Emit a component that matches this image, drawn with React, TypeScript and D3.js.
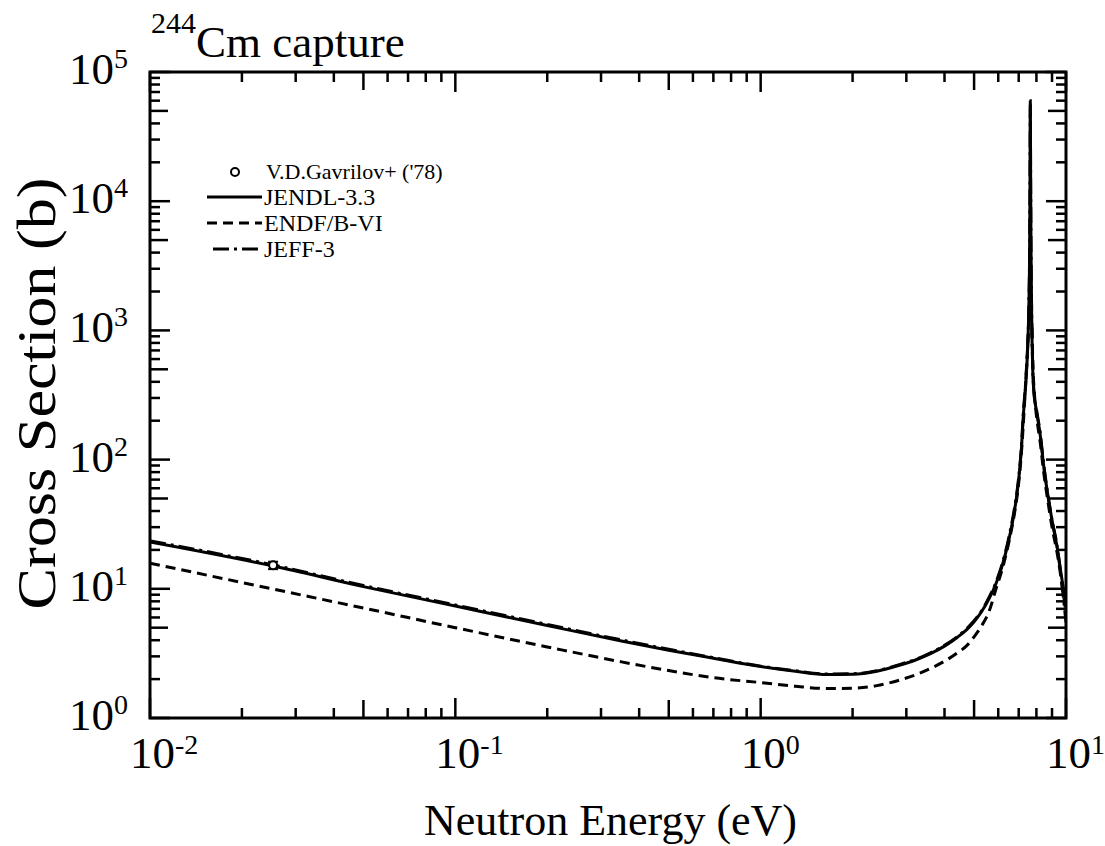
import React from 'react';
import * as d3 from 'd3';

// ---------- data ----------
const energyGrid = [0.01, 0.0253, 0.05, 0.1, 0.2, 0.35, 0.5, 0.7, 1.0, 1.3, 1.65, 2.0, 2.4, 2.86, 3.2, 3.6, 4.0, 4.4, 4.74, 5.0, 5.3, 5.6, 5.9, 6.2, 6.5, 6.8, 7.0, 7.15, 7.24, 7.40, 7.50, 7.56, 7.60, 7.62, 7.64, 7.66, 7.68, 7.72, 7.78, 7.85, 8.0, 8.22, 8.45, 8.73, 9.0, 9.35, 9.78, 10];
const jendlXS = [23.0, 15.0, 10.4, 7.35, 5.2, 3.95, 3.35, 2.9, 2.5, 2.3, 2.17, 2.18, 2.3, 2.57, 2.8, 3.15, 3.6, 4.2, 4.85, 5.55, 6.7, 8.4, 11, 15.5, 24, 42, 70, 125, 210, 420, 800, 1600, 4000, 12000, 60000, 14000, 4500, 1300, 500, 330, 240, 160, 90, 52, 34, 21, 10.5, 8];
const jeffXS = [23.5, 15.3, 10.6, 7.5, 5.3, 4.02, 3.4, 2.93, 2.52, 2.32, 2.19, 2.2, 2.32, 2.6, 2.83, 3.2, 3.65, 4.25, 4.95, 5.65, 6.8, 8.6, 11.3, 16, 25, 44, 73, 130, 220, 440, 820, 1650, 4100, 12500, 56000, 14500, 4600, 1350, 520, 340, 245, 165, 92, 53, 34, 21.5, 9, 5.5];

const endfE = [0.01, 0.0253, 0.05, 0.1, 0.2, 0.35, 0.5, 0.7, 1.0, 1.3, 1.65, 2.0, 2.4, 2.86, 3.2, 3.6, 4.0, 4.4, 4.74, 5.0, 5.3, 5.6, 5.9, 6.2, 6.5, 6.8, 7.0, 7.15, 7.30, 7.45, 7.56, 7.64, 7.72, 7.80, 7.90, 8.0, 8.22, 8.45, 8.73, 9.0, 9.35, 9.78, 10];
const endfXS = [15.8, 9.95, 7.1, 5.0, 3.55, 2.72, 2.33, 2.05, 1.88, 1.76, 1.69, 1.70, 1.78, 1.97, 2.15, 2.42, 2.75, 3.18, 3.65, 4.25, 5.2, 6.7, 10.0, 14.5, 23, 40, 66, 115, 250, 600, 1100, 1400, 1150, 500, 300, 220, 140, 80, 47, 30, 19, 9.5, 6.5];

const expE = [0.0253];
const expXS = [15.2];
const expErr = [1.0];

const xTickExps = [-2, -1, 0, 1];
const yTickExps = [0, 1, 2, 3, 4, 5];

const legendItems = [
  { label: 'JENDL-3.3', dash: 'none', x0: 207 },
  { label: 'ENDF/B-VI', dash: '10,6', x0: 207 },
  { label: 'JEFF-3', dash: '16,5,3,5', x0: 213 },
];

// ---------- layout ----------
const W = 1105, H = 846;
const L = 150, R = 1066, T = 72, B = 718;
const FONT = "'Liberation Serif', 'Times New Roman', Times, serif";

export default function App() {
  const x = d3.scaleLog().domain([1e-2, 1e1]).range([L, R]);
  const y = d3.scaleLog().domain([1, 1e5]).range([B, T]);

  const line = d3.line<[number, number]>()
    .x(d => x(d[0]))
    .y(d => y(d[1]))
    .curve(d3.curveMonotoneX);

  const jendl = energyGrid.map((e, i) => [e, jendlXS[i]] as [number, number]);
  const jeff = energyGrid.map((e, i) => [e, jeffXS[i]] as [number, number]);
  const endf = endfE.map((e, i) => [e, endfXS[i]] as [number, number]);

  const xTicks: { v: number; len: number }[] = [];
  for (let d = -2; d < 1; d++) {
    for (let k = 1; k <= 9; k++) {
      xTicks.push({ v: k * Math.pow(10, d), len: k === 1 ? 20 : k === 5 ? 18 : 10 });
    }
  }
  xTicks.push({ v: 10, len: 20 });
  const yTicks: { v: number; len: number }[] = [];
  for (let d = 0; d < 5; d++) {
    for (let k = 1; k <= 9; k++) {
      yTicks.push({ v: k * Math.pow(10, d), len: k === 1 ? 20 : k === 5 ? 18 : 10 });
    }
  }
  yTicks.push({ v: 1e5, len: 20 });

  return (
    <svg width={W} height={H} style={{ position: 'absolute', left: 0, top: 0, background: '#fff' }} fontFamily={FONT}>
      <defs>
        <clipPath id="plot">
          <rect x={L} y={T} width={R - L} height={B - T} />
        </clipPath>
      </defs>
      <rect x={0} y={0} width={W} height={H} fill="#fff" />

      {/* curves */}
      <g clipPath="url(#plot)" fill="none" stroke="#000" strokeWidth={3}>
        <path d={line(endf) || ''} strokeDasharray="10,6" />
        <path d={line(jeff) || ''} strokeDasharray="16,5,3,5" />
        <path d={line(jendl) || ''} />
      </g>

      {/* experimental point */}
      {expE.map((e, i) => (
        <g key={i} stroke="#000" strokeWidth={2} fill="none">
          <line x1={x(e)} x2={x(e)} y1={y(expXS[i] - expErr[i])} y2={y(expXS[i] + expErr[i])} />
          <line x1={x(e) - 5} x2={x(e) + 5} y1={y(expXS[i] + expErr[i])} y2={y(expXS[i] + expErr[i])} />
          <line x1={x(e) - 5} x2={x(e) + 5} y1={y(expXS[i] - expErr[i])} y2={y(expXS[i] - expErr[i])} />
          <circle cx={x(e)} cy={y(expXS[i])} r={4} fill="#fff" />
        </g>
      ))}

      {/* ticks */}
      <g stroke="#000" strokeWidth={2.5}>
        {xTicks.map((t, i) => (
          <g key={'x' + i}>
            <line x1={x(t.v)} x2={x(t.v)} y1={B} y2={B - t.len} />
            <line x1={x(t.v)} x2={x(t.v)} y1={T} y2={T + t.len} />
          </g>
        ))}
        {yTicks.map((t, i) => (
          <g key={'y' + i}>
            <line x1={L} x2={L + t.len} y1={y(t.v)} y2={y(t.v)} />
            <line x1={R} x2={R - t.len} y1={y(t.v)} y2={y(t.v)} />
          </g>
        ))}
      </g>

      {/* frame */}
      <rect x={L} y={T} width={R - L} height={B - T} fill="none" stroke="#000" strokeWidth={3} />

      {/* tick labels */}
      <g fill="#000" fontSize={45}>
        {xTickExps.map(p => (
          <text key={'xl' + p} x={x(Math.pow(10, p)) - 20} y={768}>
            10<tspan dy={-14} fontSize={28}>{String(p)}</tspan>
          </text>
        ))}
        {yTickExps.map(p => (
          <text key={'yl' + p} x={69} y={y(Math.pow(10, p)) + 12}>
            10<tspan dy={-16} fontSize={28}>{String(p)}</tspan>
          </text>
        ))}
      </g>

      {/* title */}
      <text x={151} y={57} fontSize={45} fill="#000">
        <tspan fontSize={30} dy={-24}>244</tspan>
        <tspan dy={24}>Cm capture</tspan>
      </text>

      {/* axis titles */}
      <text x={(420 + 801) / 2} y={835} fontSize={44} textAnchor="middle" fill="#000">Neutron Energy (eV)</text>
      <text transform={`translate(55, ${(175 + 612) / 2}) rotate(-90)`} fontSize={54} textAnchor="middle" fill="#000"
        textLength={432} lengthAdjust="spacingAndGlyphs">Cross Section (b)</text>

      {/* legend */}
      <g fontSize={24} fill="#000">
        <circle cx={235} cy={172} r={4} fill="#fff" stroke="#000" strokeWidth={2} />
        <text x={266} y={179} fontSize={22}>V.D.Gavrilov+ ('78)</text>
        {legendItems.map((it, i) => (
          <g key={it.label}>
            <line x1={it.x0} x2={262} y1={197 + i * 26} y2={197 + i * 26} stroke="#000" strokeWidth={3}
              strokeDasharray={it.dash === 'none' ? undefined : it.dash} />
            <text x={264} y={205 + i * 26}>{it.label}</text>
          </g>
        ))}
      </g>
    </svg>
  );
}
